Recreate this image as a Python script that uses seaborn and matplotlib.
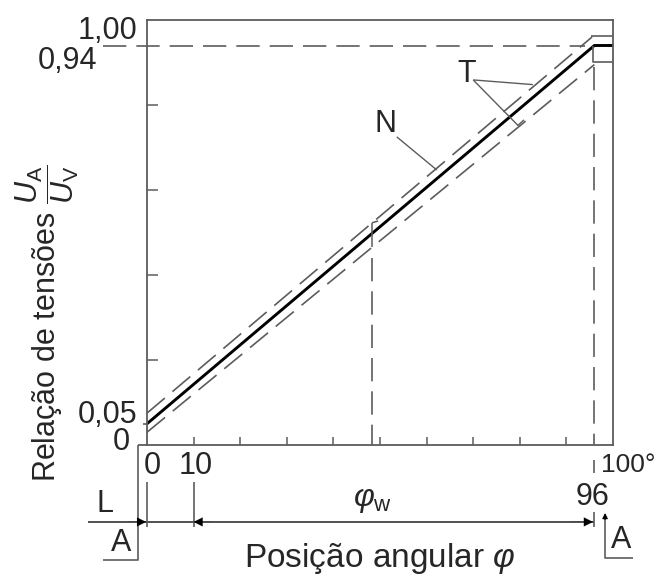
import matplotlib
matplotlib.use("Agg")
import matplotlib.pyplot as plt
import seaborn as sns
import pandas as pd

# Characteristic of the throttle-valve potentiometer: voltage ratio vs. angle
phi_nominal = [0, 96, 100]
ratio_nominal = [0.05, 0.94, 0.94]
phi_tol_upper = [0, 95.5]
ratio_tol_upper = [0.075, 0.96]
phi_tol_lower = [0, 96]
ratio_tol_lower = [0.03, 0.895]

phi_idle = 0          # L (idle stop)
phi_work_start = 10   # start of working range
phi_full = 96         # full-load stop
phi_mid = 48.3        # middle check point
ratio_max = 1.0
ratio_full = 0.94
ratio_idle = 0.05

y_tick_texts = ["1,00", "0,94", "0,05", "0"]
x_tick_texts = ["0", "10", "100°", "96"]

sns.set_theme(style="white")
plt.rcParams["font.family"] = ["Liberation Sans", "DejaVu Sans"]
plt.rcParams["mathtext.fontset"] = "custom"
plt.rcParams["mathtext.rm"] = "Liberation Sans"
plt.rcParams["mathtext.it"] = "Liberation Sans:italic"
plt.rcParams["mathtext.bf"] = "Liberation Sans:bold"

GRAY = "#5c5c5c"
DASH = (14, 6)
FS = 22

fig = plt.figure(figsize=(6.57, 5.76), dpi=100)
ax = fig.add_axes([147 / 657, 131 / 576, 466 / 657, 425 / 576])

nominal = pd.DataFrame({"phi": phi_nominal, "ratio": ratio_nominal})
upper = pd.DataFrame({"phi": phi_tol_upper, "ratio": ratio_tol_upper})
lower = pd.DataFrame({"phi": phi_tol_lower, "ratio": ratio_tol_lower})

sns.lineplot(data=nominal, x="phi", y="ratio", ax=ax, color="black",
             linewidth=2.1, sort=False, estimator=None)
for df in (upper, lower):
    sns.lineplot(data=df, x="phi", y="ratio", ax=ax, color=GRAY,
                 linewidth=1.2, dashes=False, sort=False, estimator=None)
for ln in ax.lines[1:]:
    ln.set_dashes(DASH)

ax.set_xlim(0, 100)
ax.set_ylim(0, ratio_max)
ax.set_xlabel("")
ax.set_ylabel("")
for s in ax.spines.values():
    s.set_color(GRAY)
    s.set_linewidth(1.3)
    s.set_visible(True)

ax.set_xticks(range(10, 100, 10))
ax.set_xticklabels([])
ax.set_yticks([0.2, 0.4, 0.6, 0.8])
ax.set_yticklabels([])
ax.tick_params(axis="x", direction="in", length=6, width=1.1, color=GRAY, bottom=True)
ax.tick_params(axis="y", direction="in", length=8, width=1.1, color=GRAY, left=True)


def seg(xs, ys, color=GRAY, lw=1.2, dashed=False):
    line, = ax.plot(xs, ys, color=color, linewidth=lw, clip_on=False,
                    solid_capstyle="butt")
    if dashed:
        line.set_dashes(DASH)
    return line


# 0.94 reference line and full-load vertical
seg([-9.4, 94], [ratio_full, ratio_full], dashed=True)
seg([phi_full, phi_full], [0.89, 0], dashed=True)
seg([phi_full, phi_full], [-0.035, -0.066])

# tolerance marks at the upper stop
seg([phi_full - 0.8, 100], [0.962, 0.962])
seg([phi_full - 0.3, phi_full - 0.3, 100], [ratio_full, 0.901, 0.901])

# middle check point
seg([phi_mid, phi_mid], [0.465, 0.523], lw=1.1)
seg([phi_mid, phi_mid + 1.3], [0.523, 0.527], lw=1.1)
seg([phi_mid, phi_mid], [0.44, 0], dashed=True)

# 0,05 tick
seg([-0.9, 0], [ratio_idle, ratio_idle])

# labels on the axes
ax.text(-2.0, 0.974, y_tick_texts[0], ha="right", va="center", fontsize=FS)
ax.text(-10.7, 0.904, y_tick_texts[1], ha="right", va="center", fontsize=FS)
ax.text(-2.0, 0.071, y_tick_texts[2], ha="right", va="center", fontsize=FS)
ax.text(-3.6, 0.007, y_tick_texts[3], ha="right", va="center", fontsize=FS)
ax.text(1.1, -0.049, x_tick_texts[0], ha="center", va="center", fontsize=FS)
ax.text(10.5, -0.049, x_tick_texts[1], ha="center", va="center", fontsize=FS)
ax.text(97.4, -0.047, x_tick_texts[2], ha="left", va="center", fontsize=19)
ax.text(95.7, -0.122, x_tick_texts[3], ha="center", va="center", fontsize=FS)

# curve labels with leaders
ax.text(51.1, 0.755, "N", ha="center", va="center", fontsize=FS)
seg([53.6, 62.2], [0.725, 0.647], lw=1.0)
ax.text(68.5, 0.873, "T", ha="center", va="center", fontsize=FS)
seg([70.0, 82.8], [0.859, 0.848], lw=1.0)
seg([70.0, 79.6, 80.9], [0.859, 0.752, 0.765], lw=1.0)

# bottom extension of the axis and left stop bracket
seg([-1.9, 0], [0, 0], lw=1.3)
seg([-1.9, -1.9, -9.4], [0, -0.271, -0.271])
ax.text(-5.6, -0.231, "A", ha="center", va="center", fontsize=FS)
ax.text(-9.0, -0.139, "L", ha="center", va="center", fontsize=FS)

# right stop bracket
seg([98.3, 98.3, 104.3], [-0.165, -0.266, -0.266])
ax.annotate("", xy=(98.3, -0.160), xytext=(98.3, -0.175), xycoords="data",
            annotation_clip=False,
            arrowprops=dict(arrowstyle="-|>", color="black", lw=0.8,
                            mutation_scale=8, shrinkA=0, shrinkB=0))
ax.text(101.7, -0.224, "A", ha="center", va="center", fontsize=FS)

# dimension line for the working range
dim_y = -0.181
seg([-12.7, phi_full], [dim_y, dim_y], color="#333333", lw=1.2)
seg([phi_idle, phi_idle], [-0.087, -0.193])
seg([phi_work_start, phi_work_start], [-0.087, -0.193])
seg([phi_full, phi_full], [-0.158, -0.193])
for tip, tail in ((phi_idle - 0.2, -4.0), (phi_work_start, 14.0),
                  (phi_full - 0.3, 91.0)):
    ax.annotate("", xy=(tip, dim_y), xytext=(tail, dim_y), xycoords="data",
                annotation_clip=False,
                arrowprops=dict(arrowstyle="-|>", color="black", lw=0.1,
                                mutation_scale=16, shrinkA=0, shrinkB=0))
ax.text(48.3, -0.129, r"$\varphi_\mathrm{w}$", ha="center", va="center",
        fontsize=23)

# axis titles
ax.text(50, -0.266, r"Posição angular $\varphi$", ha="center", va="center",
        fontsize=24)
ax.text(-21.5, 0.287,
        r"Relação de tensões $\dfrac{U_\mathrm{A}}{U_\mathrm{V}}$",
        rotation=90, ha="center", va="center", fontsize=22)

fig.savefig("out.png", dpi=100)
